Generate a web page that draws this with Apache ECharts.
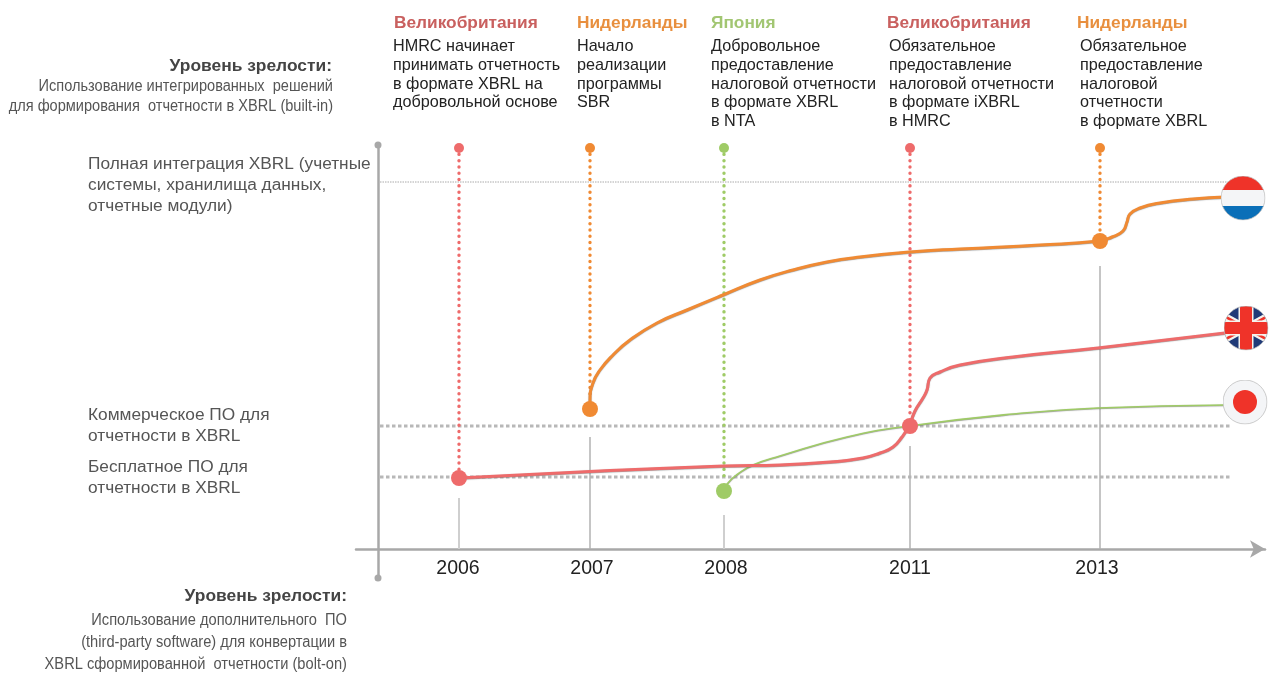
<!DOCTYPE html>
<html>
<head>
<meta charset="utf-8">
<title>Уровень зрелости XBRL</title>
<style>
  html, body { margin: 0; padding: 0; background: #fff; }
  #chart { width: 1269px; height: 673px; }
</style>
<script src="https://cdn.jsdelivr.net/npm/echarts@6/dist/echarts.min.js"></script>
</head>
<body>
<div id="chart"></div>
<script>
// timeline, both axes are schematic units
const years = [2006, 2007, 2008, 2011, 2013];
const yearPos = [20.25, 53, 86.5, 133, 180.5];
const yearLabelPos = [20, 53.5, 87, 133, 179.75];

const levelFull = 91.75;
const levelCommercial = 30.75;
const levelFree = 18;
const levelEnd = 213;

const netherlands = [
  [53, 35], [53, 37.25], [53.75, 41.5], [55.5, 44.75], [58.75, 48.5], [63, 52.25], [69.75, 56.5], [77.25, 59.75],
  [86.25, 63.5], [95.5, 67.25], [103.75, 69.75], [112.25, 71.75], [120.5, 73], [133, 74.25], [145.5, 75], [165.5, 76], [180.25, 77],
  [183.5, 78], [186.25, 79.5], [187.25, 81.75], [188, 83.75], [190.5, 85.25], [195.5, 86.5], [203.75, 87.5], [211.75, 88]
];
const uk = [
  [20.25, 17.75], [55.5, 19.5], [86.5, 20.75], [100.5, 21], [113, 21.75], [121.25, 22.75], [125.5, 24],
  [128.75, 25.5], [131, 28], [132.75, 30.75], [134.25, 34.5], [136.25, 37.75], [137.25, 39.75], [138, 42.75],
  [140.5, 44.25], [145.5, 46], [158.75, 48], [180, 50.25], [211.75, 54]
];
const japan = [
  [86.5, 14.5], [87.5, 16.5], [90, 18.75], [93.75, 21], [100.5, 23.25], [117.25, 28],
  [132.75, 30.75], [158.75, 33.75], [180, 35.25], [211.75, 36]
];

// one entry per event, in year order
const eventCountry = ['Великобритания', 'Нидерланды', 'Япония', 'Великобритания', 'Нидерланды'];
const eventDotTop = [100.25, 100.25, 100.25, 100.25, 100.25];
const eventDotBottom = [17.75, 38.5, 17, 33, 77];
const eventMarker = [17.75, 35, 14.5, 30.75, 77];
const stemTop = [12.75, 28, 8.5, 25.75, 70.75];
const eventText = [
  ['HMRC начинает', 'принимать отчетность', 'в формате XBRL на', 'добровольной основе'],
  ['Начало', 'реализации', 'программы', 'SBR'],
  ['Добровольное', 'предоставление', 'налоговой отчетности', 'в формате XBRL', 'в NTA'],
  ['Обязательное', 'предоставление', 'налоговой отчетности', 'в формате iXBRL', 'в HMRC'],
  ['Обязательное', 'предоставление', 'налоговой', 'отчетности', 'в формате XBRL']
];

const topTitle = 'Уровень зрелости:';
const topNote = ['Использование интегрированных  решений', 'для формирования  отчетности в XBRL (built-in)'];
const bottomTitle = 'Уровень зрелости:';
const bottomNote = ['Использование дополнительного  ПО', '(third-party software) для конвертации в', 'XBRL сформированной  отчетности (bolt-on)'];
const fullLabel = ['Полная интеграция XBRL (учетные', 'системы, хранилища данных,', 'отчетные модули)'];
const commercialLabel = ['Коммерческое ПО для', 'отчетности в XBRL'];
const freeLabel = ['Бесплатное ПО для', 'отчетности в XBRL'];

const flagPos = { nl: [216.25, 87.75], uk: [217, 55.25], jp: [216.75, 36.75] };

const colors = { 'Великобритания': '#ee6b6b', 'Нидерланды': '#f08a33', 'Япония': '#9fcb66' };
const headColors = { 'Великобритания': '#c9605f', 'Нидерланды': '#e88f3e', 'Япония': '#a2c672' };

function svgFlag(inner) {
  const svg = '<svg xmlns="http://www.w3.org/2000/svg" width="90" height="90" viewBox="0 0 90 90">' +
    '<defs><clipPath id="c"><circle cx="45" cy="45" r="44"/></clipPath></defs>' +
    '<g clip-path="url(#c)">' + inner + '</g>' +
    '<circle cx="45" cy="45" r="44" fill="none" stroke="#bbb" stroke-width="1.5"/></svg>';
  return 'image://data:image/svg+xml;charset=utf-8,' + encodeURIComponent(svg);
}
const flagNl = svgFlag('<rect width="90" height="90" fill="#f4f5f7"/><rect width="90" height="29" fill="#ef3329"/><rect y="61" width="90" height="29" fill="#0a6fb8"/>');
const flagUk = svgFlag('<rect width="90" height="90" fill="#1f3a78"/>' +
  '<path d="M-10 15L100 75M-10 75L100 15" stroke="#f4f3ee" stroke-width="14"/>' +
  '<path d="M-10 15L100 75M-10 75L100 15" stroke="#ef3329" stroke-width="5"/>' +
  '<rect x="30" width="30" height="90" fill="#f4f3ee"/><rect y="30" width="90" height="30" fill="#f4f3ee"/>' +
  '<rect x="33" width="24" height="90" fill="#ef3329"/><rect y="33" width="90" height="24" fill="#ef3329"/>');
const flagJp = svgFlag('<rect width="90" height="90" fill="#f4f5f7"/><circle cx="45" cy="45" r="24" fill="#ef3329"/>');

function hline(y, style) {
  return { type: 'line', data: [[0.5, y], [levelEnd, y]], showSymbol: false, silent: true, lineStyle: style, z: 1 };
}
function curve(data, color, width, z) {
  return {
    type: 'line', data: data, smooth: 0.5, showSymbol: false, silent: true, z: z,
    lineStyle: { color: color, width: width, shadowColor: 'rgba(90,90,90,0.6)', shadowBlur: 1, shadowOffsetY: 0.5 }
  };
}

const series = [
  hline(levelFull, { color: '#aaa', width: 1, type: [1.5, 1] }),
  hline(levelCommercial, { color: '#b8b8b8', width: 3, type: [3.5, 2.5] }),
  hline(levelFree, { color: '#b8b8b8', width: 3, type: [3.5, 2.5] })
];

years.forEach(function (year, i) {
  const color = colors[eventCountry[i]];
  const x = yearPos[i];
  const light = i === 0 || i === 2;
  // grey stem up from the axis
  series.push({
    type: 'line', data: [[x, 0], [x, stemTop[i]]], showSymbol: false, silent: true, z: 2,
    lineStyle: { color: light ? '#cfcfcf' : '#b2b2b2', width: light ? 2 : 1.5 }
  });
  // dotted drop from the event
  series.push({
    type: 'line', data: [[x, eventDotTop[i]], [x, eventDotBottom[i]]], showSymbol: false, silent: true, z: 3,
    lineStyle: { color: color, width: 3.4, type: [0.1, 6.2], cap: 'round' }
  });
});

series.push(curve(japan, colors['Япония'], 1.6, 4));
series.push(curve(netherlands, colors['Нидерланды'], 3, 5));
series.push(curve(uk, colors['Великобритания'], 3, 6));

series.push({
  type: 'scatter', symbolSize: 10, silent: true, z: 7,
  data: years.map(function (y, i) {
    return { value: [yearPos[i], eventDotTop[i]], itemStyle: { color: colors[eventCountry[i]], opacity: 1 } };
  })
});
series.push({
  type: 'scatter', symbolSize: 16, silent: true, z: 7,
  data: years.map(function (y, i) {
    return { value: [yearPos[i], eventMarker[i]], itemStyle: { color: colors[eventCountry[i]], opacity: 1 } };
  })
});
series.push({
  type: 'scatter', symbolSize: 45, silent: true, z: 8,
  itemStyle: { opacity: 1 },
  data: [
    { value: flagPos.nl, symbol: flagNl },
    { value: flagPos.uk, symbol: flagUk },
    { value: flagPos.jp, symbol: flagJp }
  ]
});

// text helpers, one element per line
const fontName = '"Liberation Sans", Arial, sans-serif';
function textLines(lines, x, y, step, font, fill, align, narrow) {
  return lines.map(function (t, i) {
    return {
      type: 'text', x: x, y: y + i * step, scaleX: narrow || 1,
      style: { text: t, font: font, fill: fill, textAlign: align || 'left', textVerticalAlign: 'middle' }
    };
  });
}

const headX = [394, 577, 711, 887, 1077];
const bodyX = [393, 577, 711, 889, 1080];
let texts = [];
eventText.forEach(function (lines, i) {
  const c = eventCountry[i];
  texts = texts.concat(textLines([c], headX[i], 23, 0, 'bold 17.3px ' + fontName, headColors[c]));
  texts = texts.concat(textLines(lines, bodyX[i], 47, 18.6, '16.2px ' + fontName, '#222'));
});
texts = texts.concat(textLines([topTitle], 332, 66, 0, 'bold 17.4px ' + fontName, '#444', 'right'));
texts = texts.concat(textLines(topNote, 333, 87, 20, '16px ' + fontName, '#555', 'right', 0.91));
texts = texts.concat(textLines(fullLabel, 88, 164, 21, '17.3px ' + fontName, '#555'));
texts = texts.concat(textLines(commercialLabel, 88, 415, 21, '17.3px ' + fontName, '#555'));
texts = texts.concat(textLines(freeLabel, 88, 467, 21, '17.3px ' + fontName, '#555'));
texts = texts.concat(textLines([bottomTitle], 347, 596, 0, 'bold 17.4px ' + fontName, '#444', 'right'));
texts = texts.concat(textLines(bottomNote, 347, 621, 22, '16px ' + fontName, '#555', 'right', 0.915));

const option = {
  animation: false,
  backgroundColor: '#fff',
  grid: { left: 356, top: 145, width: 909, height: 433, containLabel: false },
  xAxis: {
    type: 'value', min: -5.5, max: 221.75,
    splitLine: { show: false },
    axisLine: { onZero: true, symbol: ['none', 'arrow'], symbolSize: [13, 15], lineStyle: { color: '#a8a8a8', width: 2.5 } },
    axisTick: { show: false },
    axisLabel: {
      customValues: yearLabelPos, margin: -19, color: '#222', fontSize: 19.5, fontFamily: fontName,
      formatter: function (v) { return String(years[yearLabelPos.indexOf(v)]); }
    }
  },
  yAxis: {
    type: 'value', min: -7.25, max: 101,
    splitLine: { show: false },
    axisLine: { onZero: true, symbol: ['circle', 'circle'], symbolSize: [7, 7], lineStyle: { color: '#a8a8a8', width: 2.5 } },
    axisTick: { show: false },
    axisLabel: { show: false }
  },
  tooltip: { show: false },
  legend: { show: false },
  series: series,
  graphic: { elements: texts }
};

const miGrafico = echarts.init(document.getElementById('chart'));
miGrafico.setOption(option);
</script>
</body>
</html>
